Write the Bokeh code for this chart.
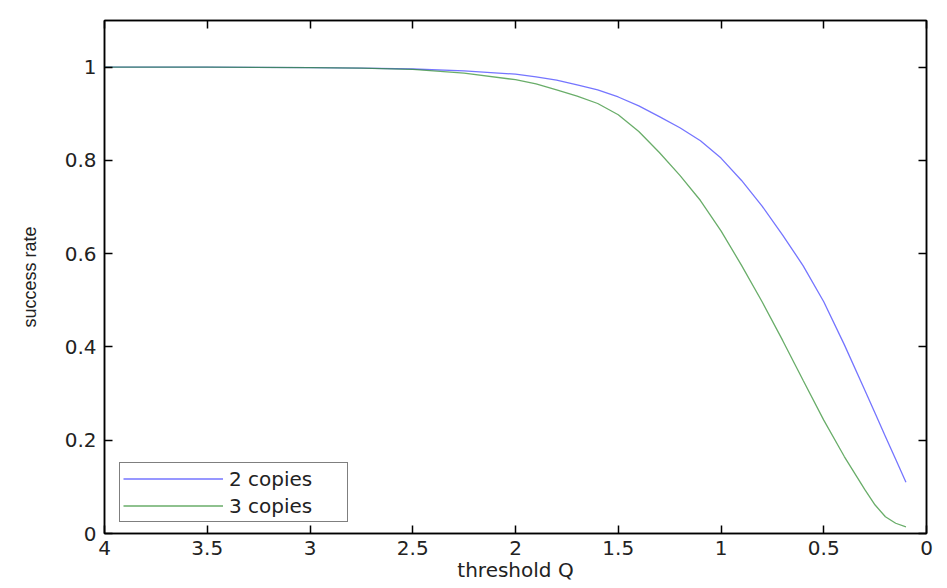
from bokeh.plotting import figure
from bokeh.models import (Range1d, LinearAxis, FixedTicker, NumeralTickFormatter, Legend,
                          LegendItem, CustomLabelingPolicy)
from bokeh.embed import file_html
from bokeh.resources import INLINE

# threshold Q values
q = [4.0, 3.5, 3.0, 2.75, 2.5, 2.25, 2.0, 1.9, 1.8, 1.7, 1.6, 1.5, 1.4, 1.3, 1.2, 1.1, 1.0,
     0.9, 0.8, 0.7, 0.6, 0.5, 0.4, 0.3, 0.25, 0.2, 0.15, 0.1]
# success rate, 2 copies
two_copies = [1.0, 1.0, 0.999, 0.998, 0.996, 0.992, 0.985, 0.979, 0.972, 0.962, 0.951, 0.936,
              0.917, 0.894, 0.870, 0.842, 0.805, 0.757, 0.702, 0.640, 0.574, 0.497, 0.405,
              0.307, 0.258, 0.208, 0.159, 0.11]
# success rate, 3 copies
three_copies = [1.0, 1.0, 0.999, 0.998, 0.995, 0.987, 0.973, 0.964, 0.951, 0.938, 0.922, 0.898,
                0.862, 0.817, 0.768, 0.714, 0.649, 0.575, 0.497, 0.414, 0.328, 0.243, 0.165,
                0.094, 0.061, 0.036, 0.022, 0.014]

x_ticks = [0, 0.5, 1, 1.5, 2, 2.5, 3, 3.5, 4]
y_ticks = [0, 0.2, 0.4, 0.6, 0.8, 1]

FONT = "DejaVu Sans"
TXT = "#222222"

p = figure(width=938, height=588, output_backend="svg", toolbar_location=None,
           x_range=Range1d(4, 0), y_range=Range1d(0, 1.1),
           min_border_left=104, min_border_right=12, min_border_top=20, min_border_bottom=55)
p.grid.visible = False
p.outline_line_color = "black"
p.outline_line_width = 1.5

r2 = p.line(q, two_copies, line_color="#3a3aff", line_width=1.3, line_alpha=0.7)
r3 = p.line(q, three_copies, line_color="#2a8a2a", line_width=1.3, line_alpha=0.7)

for ax in (p.xaxis[0], p.yaxis[0]):
    ax.major_tick_in = 8
    ax.major_tick_out = 0
    ax.minor_tick_line_color = None
    ax.axis_line_color = "black"
    ax.axis_line_width = 1.5
    ax.major_tick_line_width = 1.5
    ax.major_label_text_font = FONT
    ax.major_label_text_font_size = "20px"
    ax.major_label_text_color = TXT
    ax.formatter = NumeralTickFormatter(format="0.[0]")
    ax.axis_label_text_font_style = "normal"
    ax.axis_label_text_color = TXT

p.xaxis[0].ticker = FixedTicker(ticks=x_ticks)
p.yaxis[0].ticker = FixedTicker(ticks=y_ticks)
p.xaxis[0].axis_label = "threshold Q"
p.xaxis[0].axis_label_text_font = FONT
p.xaxis[0].axis_label_text_font_size = "20px"
p.xaxis[0].axis_label_standoff = 0
p.xaxis[0].major_label_standoff = 7

p.yaxis[0].axis_label = "success rate"
p.yaxis[0].axis_label_text_font = "Liberation Sans"
p.yaxis[0].axis_label_text_font_size = "18px"
p.yaxis[0].axis_label_standoff = 22
p.yaxis[0].major_label_standoff = 8

# mirrored ticks on top and right, without labels
hide_labels = """
const arr = (typeof indices.ones === "function") ? [...indices.ones()] : [...indices];
for (const i of arr) {
  if (typeof indices.unset === "function") indices.unset(i); else indices.set(i, false);
}
return indices;
"""
for loc, ticks in (("above", x_ticks), ("right", y_ticks)):
    ax = LinearAxis(ticker=FixedTicker(ticks=ticks), major_label_text_font_size="1px",
                    major_label_standoff=0, major_tick_in=8, major_tick_out=0,
                    minor_tick_line_color=None, axis_line_width=1.5, major_tick_line_width=1.5,
                    major_label_policy=CustomLabelingPolicy(code=hide_labels))
    p.add_layout(ax, loc)

legend = Legend(items=[LegendItem(label="2 copies", renderers=[r2]),
                       LegendItem(label="3 copies", renderers=[r3])],
                location=(15, 11))
legend.label_text_font = FONT
legend.label_text_font_size = "20px"
legend.label_text_color = TXT
legend.glyph_width = 100
legend.glyph_height = 25
legend.label_height = 25
legend.label_width = 115
legend.label_standoff = 6
legend.spacing = 2
legend.padding = 3
legend.margin = 0
legend.border_line_color = "black"
legend.border_line_width = 1.5
p.add_layout(legend, "center")

open("out.html", "w").write(file_html(p, INLINE))
